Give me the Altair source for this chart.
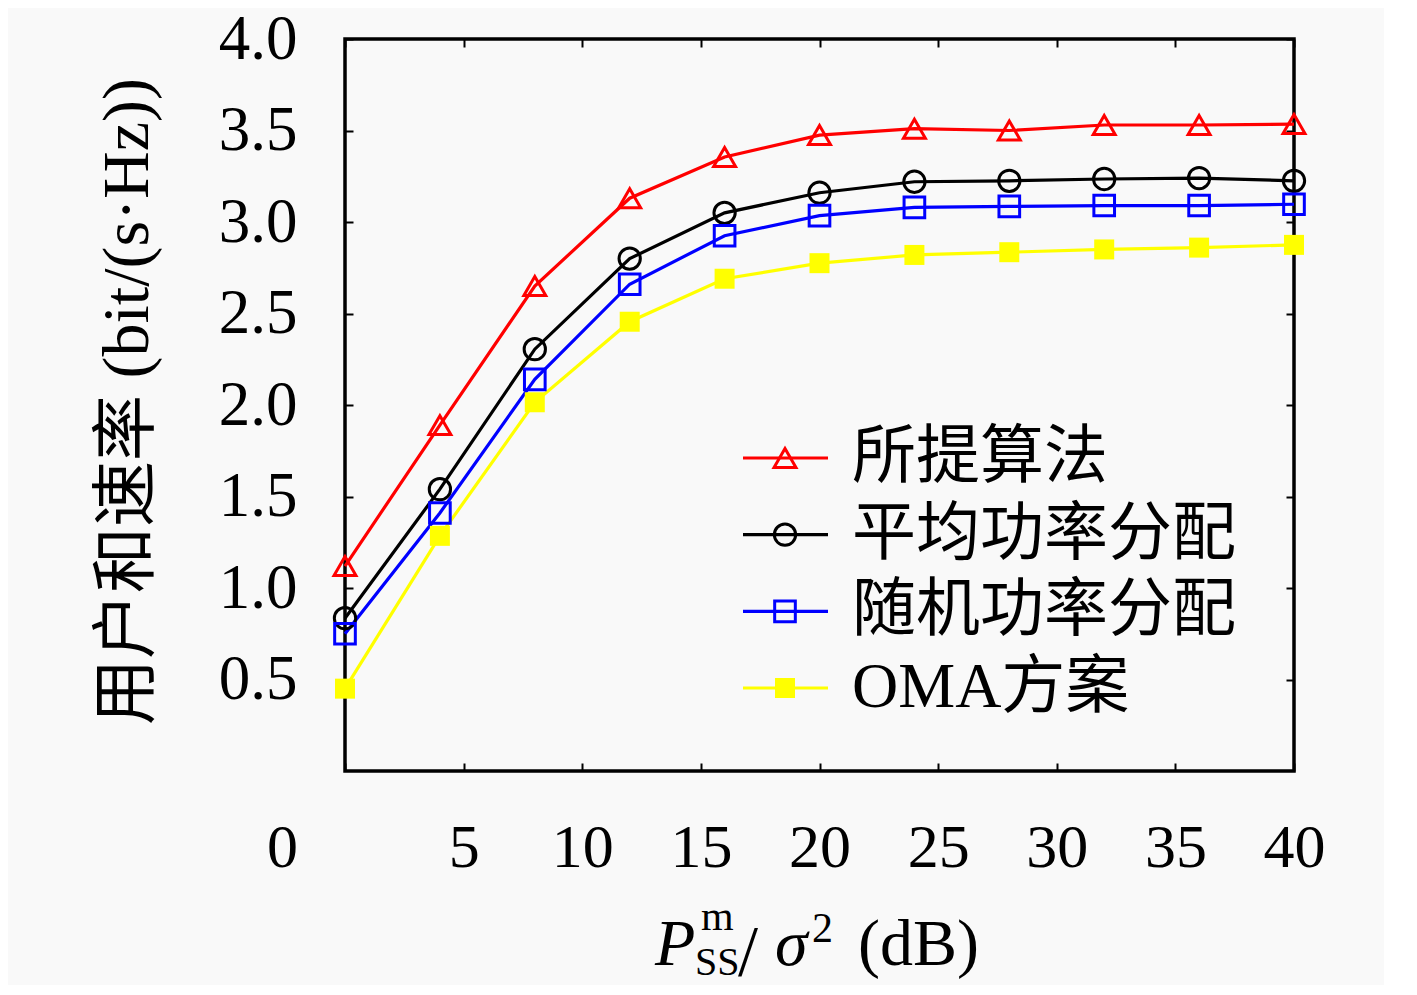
import altair as alt
import pandas as pd

x_vals = [0, 4, 8, 12, 16, 20, 24, 28, 32, 36, 40]
proposed = [1.12, 1.89, 2.65, 3.13, 3.355, 3.475, 3.51, 3.50, 3.53, 3.53, 3.535]
equal_pa = [0.835, 1.54, 2.305, 2.80, 3.05, 3.16, 3.22, 3.225, 3.235, 3.24, 3.225]
random_pa = [0.75, 1.41, 2.14, 2.66, 2.925, 3.035, 3.08, 3.085, 3.09, 3.09, 3.097]
oma = [0.45, 1.285, 2.015, 2.455, 2.69, 2.775, 2.82, 2.835, 2.85, 2.86, 2.875]

names = ["所提算法", "平均功率分配", "随机功率分配", "OMA方案"]
colors = ["#ff0000", "#000000", "#0000ff", "#ffff00"]
shapes = ["triangle-up", "circle", "square", "square"]
marker_sizes = [480, 400, 200, 150]
x_ticks = [0, 5, 10, 15, 20, 25, 30, 35, 40]
y_ticks = [0.5, 1.0, 1.5, 2.0, 2.5, 3.0, 3.5, 4.0]

rows = []
for name, vals in zip(names, [proposed, equal_pa, random_pa, oma]):
    for xv, yv in zip(x_vals, vals):
        rows.append({"x": xv, "y": yv, "series": name})
df = pd.DataFrame(rows)
leg_df = pd.DataFrame({"series": names})

SERIF = "Liberation Serif"
MIXED = "Liberation Serif, Noto Sans CJK SC"

cscale = alt.Scale(domain=names, range=colors)
sscale = alt.Scale(domain=names, range=shapes)
zscale = alt.Scale(domain=names, range=marker_sizes)
xscale = alt.Scale(domain=[0, 40], nice=False, zero=False)
yscale = alt.Scale(domain=[0, 4], nice=False, zero=True)

bottom_axis = alt.Axis(
    orient="bottom", values=x_ticks, format="d", domain=False, offset=-8,
    tickSize=8, tickWidth=2, tickColor="black", grid=False,
    labelFont=SERIF, labelFontSize=62, labelColor="black",
    labelBaseline="alphabetic", labelPadding=95, labelFlush=False,
    labelOverlap=False,
    labelOffset={"condition": {"test": "datum.value === 0", "value": -63}, "value": 0},
    title=None,
)
left_axis = alt.Axis(
    orient="left", values=y_ticks, format=".1f", domain=False, offset=-8,
    tickSize=8, tickWidth=2, tickColor="black", grid=False,
    labelFont=SERIF, labelFontSize=63, labelColor="black",
    labelBaseline="middle", labelPadding=48, labelFlush=False,
    labelOverlap=False,
    title="用户和速率 (bit/(s·Hz))", titleFont=MIXED, titleFontSize=66,
    titleFontWeight="normal", titleColor="black", titleAngle=270,
    titleX=-226, titleY=362, titleAlign="center", titleBaseline="middle",
)
top_axis = alt.Axis(
    orient="top", values=x_ticks, domain=False, offset=-8, tickSize=8,
    tickWidth=2, tickColor="black", grid=False, labels=False, title=None,
)
right_axis = alt.Axis(
    orient="right", values=y_ticks, domain=False, offset=-8, tickSize=8,
    tickWidth=2, tickColor="black", grid=False, labels=False, title=None,
)

base = alt.Chart(df)
X = lambda ax=None: alt.X("x:Q", scale=xscale, axis=ax)
Y = lambda ax=None: alt.Y("y:Q", scale=yscale, axis=ax)
color = alt.Color("series:N", scale=cscale, legend=None)
shape = alt.Shape("series:N", scale=sscale, legend=None)
size = alt.Size("series:N", scale=zscale, legend=None)

lines = base.mark_line(strokeWidth=3.2).encode(
    x=X(bottom_axis), y=Y(left_axis), color=color, detail="series:N"
)
pts_open = base.transform_filter(alt.datum.series != "OMA方案").mark_point(
    filled=False, strokeWidth=3, opacity=1
).encode(x=X(), y=Y(), color=color, shape=shape, size=size)
pts_fill = base.transform_filter(alt.datum.series == "OMA方案").mark_point(
    filled=True, opacity=1, shape="square"
).encode(x=X(), y=Y(), color=color, size=size)
frame_axes = base.mark_point(opacity=0).encode(x=X(top_axis), y=Y(right_axis))

data_layer = alt.layer(lines, pts_open, pts_fill, frame_axes).resolve_axis(
    x="independent", y="independent"
)

ly = alt.Y("series:N", sort=names,
           scale=alt.Scale(type="point", domain=names, range=[419, 649], padding=0),
           axis=None)
lbase = alt.Chart(leg_df)
l_rule = lbase.mark_rule(strokeWidth=3.2).encode(
    x=alt.value(398), x2=alt.value(483), y=ly, color=color
)
l_open = lbase.transform_filter(alt.datum.series != "OMA方案").mark_point(
    filled=False, strokeWidth=3, opacity=1
).encode(x=alt.value(440), y=ly, color=color, shape=shape, size=size)
l_fill = lbase.transform_filter(alt.datum.series == "OMA方案").mark_point(
    filled=True, opacity=1, shape="square"
).encode(x=alt.value(440), y=ly, color=color, size=size)
l_text = lbase.mark_text(
    align="left", baseline="middle", font=MIXED, fontSize=64, color="black"
).encode(x=alt.value(507), y=ly, text="series:N")
legend_layer = alt.layer(l_rule, l_open, l_fill, l_text)

dummy = pd.DataFrame({"k": [0]})


def piece(txt, x, y, fsize, italic=False):
    return alt.Chart(dummy).mark_text(
        text=txt, font=SERIF, fontSize=fsize,
        fontStyle="italic" if italic else "normal",
        align="left", baseline="alphabetic", color="black",
    ).encode(x=alt.value(x), y=alt.value(y))


pieces = [
    piece("P", 310, 926, 66, True),
    piece("m", 356, 891, 42),
    piece("SS", 350, 936, 40),
    piece("/", 393, 936, 72),
    piece("σ", 430, 926, 66, True),
    piece("2", 467, 903, 42),
    piece("(dB)", 513, 926, 66),
]

chart = alt.layer(data_layer, legend_layer, *pieces).resolve_scale(
    y="independent"
).properties(
    width=949, height=732,
    autosize=alt.AutoSizeParams(type="none"),
    padding={"left": 337, "top": 31, "right": 90, "bottom": 214},
    background="#f9f9f9",
).configure_view(stroke="black", strokeWidth=3.5)

chart.save("out.html", embed_options={"renderer": "svg", "actions": False})
